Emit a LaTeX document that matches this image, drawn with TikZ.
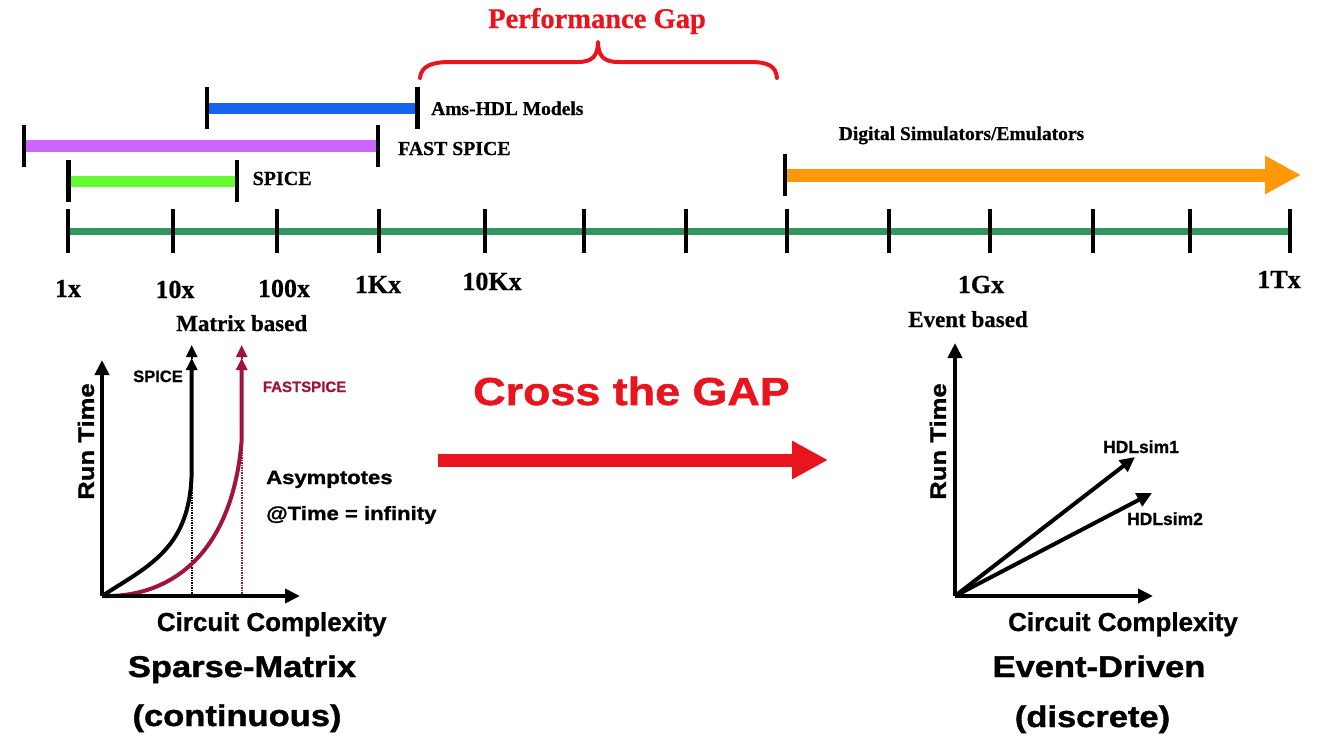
\documentclass[tikz,border=0pt]{standalone}
\usepackage{fontspec}
\setmainfont{Liberation Serif}[BoldFeatures={FakeBold=0.6}]
\newfontfamily\hv{Liberation Sans}[BoldFeatures={FakeBold=1}]
\newfontfamily\hvwide{Liberation Sans}[FakeStretch=1.15,BoldFeatures={FakeBold=1.3}]
\usetikzlibrary{arrows.meta}

\definecolor{axisgreen}{RGB}{51,150,95}
\definecolor{barblue}{RGB}{20,100,240}
\definecolor{barviolet}{RGB}{204,102,255}
\definecolor{barlime}{RGB}{102,250,51}
\definecolor{barorange}{RGB}{255,153,10}
\definecolor{gapred}{RGB}{232,20,30}
\definecolor{fastmaroon}{RGB}{160,20,60}

\begin{document}
\begin{tikzpicture}[x=1pt,y=-1pt,
  tickmark/.style={line width=4.5pt,black},
  rangebar/.style={line width=11pt},
  serlab/.style={font=\bfseries\fontsize{#1}{#1}\selectfont,inner sep=0pt},
  sanlab/.style={font=\hv\bfseries\fontsize{#1}{#1}\selectfont,inner sep=0pt},
  widelab/.style={font=\hvwide\bfseries\fontsize{#1}{#1}\selectfont,inner sep=0pt},
  axisarrow/.style={line width=4pt,-{Triangle[length=15pt,width=14pt]}},
  curvearrow/.style={line width=4pt,-{Triangle[length=12pt,width=11pt]}},
  asymline/.style={line width=2.2pt,dash pattern=on 1.2pt off 1.3pt,-{Triangle[length=12pt,width=11pt]}},
  fatarrow/.style={line width=13pt,-{Triangle[length=36pt,width=36pt]}}]
\useasboundingbox (0,0) rectangle (1319,739);

% ---------------- speed axis ----------------
\foreach \i/\x in {1/68,2/173,3/277,4/379,5/485,6/584,7/686,8/787,9/889,10/990,11/1093,12/1190,13/1290}
  \coordinate (t\i) at (\x,231);
\draw[axisgreen,line width=7pt] (t1) -- (t13);
\foreach \i in {1,...,13}
  \draw[tickmark] ([yshift=22pt]t\i) -- ([yshift=-22pt]t\i);

\node[serlab=26,anchor=base] (l1x)   at (68,297)   {1x};
\node[serlab=26,anchor=base] (l10x)  at (175,298)  {10x};
\node[serlab=26,anchor=base] (l100x) at (284,297)  {100x};
\node[serlab=26,anchor=base] (l1k)   at (378,293)  {1Kx};
\node[serlab=26,anchor=base] (l10k)  at (492,290)  {10Kx};
\node[serlab=26,anchor=base] (l1g)   at (981,293)  {1Gx};
\node[serlab=26,anchor=base] (l1t)   at (1279,288) {1Tx};

% ---------------- tool ranges ----------------
\coordinate (amsL) at (207,108);   \coordinate (amsR) at (417.5,108);
\coordinate (fsL)  at (24,146);    \coordinate (fsR)  at (378,146);
\coordinate (spL)  at (68.6,181);  \coordinate (spR)  at (237,181);
\coordinate (dsL)  at (785,175);   \coordinate (dsR)  at (1301,175);

\draw[rangebar,barblue]   (amsL) -- (amsR);
\draw[rangebar,barviolet,line width=12pt] (fsL) -- (fsR);
\draw[rangebar,barlime]   (spL) -- (spR);
\draw[fatarrow,barorange] (dsL) -- (dsR);

\foreach \c in {amsL,amsR,fsL,fsR,spL,spR,dsL}
  \draw[tickmark] ([yshift=21pt]\c) -- ([yshift=-21pt]\c);

\node[serlab=19.5,anchor=base west] (amslab) at (431,115) {Ams-HDL Models};
\node[serlab=19.8,anchor=base west] (fslab)  at (398,155) {FAST SPICE};
\node[serlab=20,anchor=base west]   (splab)  at (252.5,185) {SPICE};
\node[serlab=19.5,anchor=base west] (dslab)  at (838.6,140) {Digital Simulators/Emulators};

% ---------------- performance gap brace ----------------
\coordinate (bl) at (420,78);
\coordinate (bt) at (598,42);
\coordinate (br) at (777,78);
\draw[gapred,line width=4pt,line cap=round,line join=round]
  (bl) .. controls (421,66) and (432,62) .. (450,62) -- (578,62)
       .. controls (592,62) and (598,56) .. (bt)
       .. controls (598,56) and (604,62) .. (618,62) -- (750,62)
       .. controls (768,62) and (776,66) .. (br);
\node[serlab=28.5,text=gapred,anchor=base] (gaplab) at (597,28) {Performance Gap};

% ---------------- cross the gap ----------------
\node[widelab=39,text=gapred,anchor=base] (crosslab) at (631.5,405) {Cross the GAP};
\coordinate (cgL) at (438,460);
\coordinate (cgR) at (828,460);
\draw[fatarrow,gapred] (cgL) -- (cgR);

% ---------------- sparse-matrix chart ----------------
\coordinate (lo) at (102,596);
\coordinate (ly) at (102,360);
\coordinate (lx) at (300,596);
\coordinate (sA) at (191.7,596);  \coordinate (sAt) at (191.7,345);
\coordinate (fA) at (241.7,596);  \coordinate (fAt) at (241.7,345);
\coordinate (sTop) at (191.7,358);
\coordinate (fTop) at (241.7,358);

\draw[asymline,black] (sA) -- (sAt);
\draw[asymline,fastmaroon] (fA) -- (fAt);
\draw[curvearrow,black] (lo) .. controls (150,565) and (191,548) .. (191.7,470) -- (sTop);
\draw[curvearrow,fastmaroon] (lo) .. controls (165,598) and (232,560) .. (241.7,440) -- (fTop);
\draw[axisarrow] (lo) -- (ly);
\draw[axisarrow] (lo) -- (lx);

\node[serlab=23,anchor=base] (matlab) at (241.7,331) {Matrix based};
\node[sanlab=16.5,anchor=base] (spicecurve) at (158,382) {SPICE};
\node[sanlab=15,text=fastmaroon,anchor=base west] (fastcurve) at (262.7,392) {FASTSPICE};
\node[widelab=22.3,rotate=90] (rtL) at (86,441.5) {Run Time};
\node[widelab=19.2,anchor=base west] (asym1) at (266,484) {Asymptotes};
\node[widelab=19.2,anchor=base west] (asym2) at (266,520) {@Time = infinity};
\node[sanlab=26,anchor=base] (ccL) at (271.7,631) {Circuit Complexity};
\node[widelab=30,anchor=base] (smL) at (242,677) {Sparse-Matrix};
\node[widelab=30,anchor=base] (contL) at (237,726) {(continuous)};

% ---------------- event-driven chart ----------------
\coordinate (ro) at (955,596);
\coordinate (ry) at (955,343);
\coordinate (rx) at (1153,596);
\coordinate (h1) at (1135,457);
\coordinate (h2) at (1152,493);

\draw[axisarrow] (ro) -- (ry);
\draw[axisarrow] (ro) -- (rx);
\draw[axisarrow] (ro) -- (h1);
\draw[axisarrow] (ro) -- (h2);

\node[serlab=23,anchor=base] (evlab) at (968,327) {Event based};
\node[sanlab=17.5,anchor=base] (hd1) at (1141,453) {HDLsim1};
\node[sanlab=17.5,anchor=base] (hd2) at (1165,525) {HDLsim2};
\node[widelab=22.3,rotate=90] (rtR) at (938,441.5) {Run Time};
\node[sanlab=26,anchor=base] (ccR) at (1123,631) {Circuit Complexity};
\node[widelab=30,anchor=base] (edR) at (1099,677) {Event-Driven};
\node[widelab=30,anchor=base] (discR) at (1092.5,727) {(discrete)};
\end{tikzpicture}
\end{document}
